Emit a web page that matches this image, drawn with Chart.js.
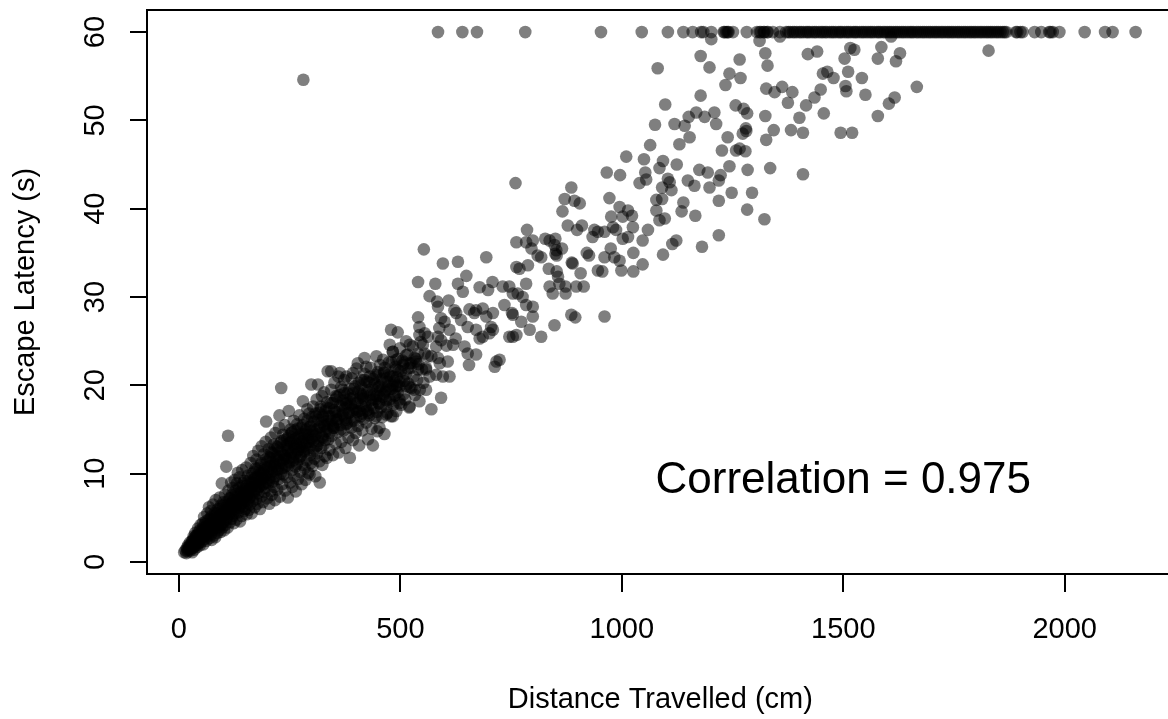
<!DOCTYPE html>
<html><head><meta charset="utf-8">
<script src="https://cdn.jsdelivr.net/npm/chart.js@4/dist/chart.umd.min.js"></script>
<style>html,body{margin:0;padding:0;background:#fff;overflow:hidden}#wrap{width:1168px;height:719px;overflow:hidden;position:relative;background:#fff}canvas{display:block}</style>
</head><body><div id="wrap"><canvas id="c" width="1180" height="719"></canvas></div>
<script>
// ---------- data (distance in cm, latency in s) ----------
const xTitle = 'Distance Travelled (cm)';
const yTitle = 'Escape Latency (s)';
const corrLabel = 'Correlation = 0.975';
const xTickValues = [0, 500, 1000, 1500, 2000];
const yTickValues = [0, 10, 20, 30, 40, 50, 60];
const cappedLatency = 60;

// trials that hit the 60 s cap
const cappedDistance = [585, 640, 673, 782, 953, 1045, 1104, 1139, 1160, 1179, 1184, 1202, 1230, 1232, 1236, 1239, 1241, 1251, 1282, 1305, 1311, 1314, 1320, 1322, 1328, 1330, 1341, 1357,
  1371, 1376, 1380, 1386, 1390, 1395, 1401, 1405, 1410, 1416, 1420, 1424, 1430, 1435, 1439, 1445, 1450, 1454, 1459, 1463, 1469, 1474, 1478, 1483, 1489, 1493, 1497, 1503, 1508, 1512, 1517, 1523, 1527, 1531, 1537, 1542, 1546, 1551, 1556, 1561, 1565, 1570, 1576, 1580, 1584, 1590, 1594, 1599, 1604, 1608, 1613, 1618, 1622, 1627, 1632, 1636, 1641, 1646, 1651, 1655, 1659, 1665, 1669, 1674, 1679, 1683, 1688, 1693, 1697, 1702, 1707, 1711, 1716, 1721, 1725, 1730, 1735, 1739, 1744, 1748, 1753, 1758, 1762, 1767, 1772, 1776, 1781, 1786, 1790, 1795, 1799, 1804, 1809, 1813, 1818, 1823, 1827, 1832, 1836, 1841, 1846, 1850, 1855, 1860, 1864, 1868,
  1890, 1893, 1900, 1905, 1932, 1947, 1965, 1968, 1973, 1988, 2045, 2091, 2108, 2160];

// long trials, 43-60 s
const upperTrials = [[281,54.6],[1202,59.2],[1311,59.0],[1357,59.5],[1178,57.3],[1266,56.9],[1324,57.6],[1420,57.5],[1441,57.8],[1516,58.2],[1525,58.0],[1503,57.0],[1578,57.0],[1081,55.9],[1198,56.0],[1329,56.2],[1243,55.3],[1268,54.8],[1234,54.0],[1454,55.3],[1464,55.5],[1478,54.8],[1511,55.5],[1542,54.8],[1505,53.9],[1507,53.3],[1550,52.9],[1449,53.5],[1435,52.6],[1416,51.7],[1456,50.8],[1401,50.3],[1578,50.5],[1494,48.6],[1520,48.6],[1409,48.6],[1382,48.9],[1326,53.6],[1345,53.2],[1362,53.8],[1385,53.2],[1375,52.0],[1178,52.8],[1098,51.8],[1257,51.7],[1275,51.3],[1283,50.8],[1324,50.5],[1168,50.9],[1151,50.4],[1187,50.4],[1209,50.9],[1213,49.6],[1119,49.6],[1142,49.4],[1075,49.5],[1153,48.1],[1130,47.3],[1064,47.2],[1010,45.9],[1050,45.6],[1093,45.4],[1124,45.0],[1085,44.6],[966,44.1],[996,43.8],[1053,44.1],[1281,48.8],[1280,49.1],[1239,48.1],[1273,48.5],[1343,48.9],[1326,47.8],[1226,46.6],[1258,46.6],[1279,46.5],[1266,46.8],[1243,44.8],[1284,44.4],[1335,44.6],[1409,43.9],[1175,44.4],[1194,44.1],[1223,43.8],
  [1608,59.5],[1586,58.3],[1628,57.6],[1619,56.7],[1828,57.9],[1666,53.8],[1616,52.6],[1603,51.9]];

// middle trials, 26-43 s
const middleTrials = [[760,42.9],[1040,42.9],[1055,43.3],[1104,43.4],[1108,43.0],[1112,42.1],[1091,42.4],[1078,41.0],[1091,41.1],[1078,39.8],[1085,38.7],[1097,38.9],[1149,43.2],[1164,42.6],[1139,40.7],[1135,39.7],[1166,39.2],[1198,42.4],[1219,43.2],[1219,40.9],[1248,41.8],[1283,39.9],[1294,41.8],[1322,38.8],[1219,37.0],[1181,35.7],[1123,36.4],[1114,36.0],[1093,34.8],[1059,37.6],[1047,36.4],[1025,37.9],[1023,39.2],[1014,39.8],[1002,39.1],[995,40.2],[972,41.2],[976,39.1],[980,37.9],[961,37.4],[946,37.4],[938,37.6],[934,36.8],[987,37.6],[1002,36.6],[1014,36.8],[1026,35.0],[1047,33.7],[1026,32.9],[999,33.0],[995,34.1],[983,34.5],[975,35.5],[961,34.5],[956,32.9],[946,33.0],[926,34.7],[921,35.0],[889,33.8],[887,33.9],[907,32.7],[899,37.6],[878,38.1],[910,38.1],[905,40.6],[893,40.9],[871,41.1],[886,42.4],[866,39.7],[850,36.6],[850,34.9],[853,34.7],[865,35.5],[837,36.4],[827,36.6],[835,33.2],[853,32.9],[856,32.3],[837,31.2],[844,30.4],[859,31.5],[873,31.2],[873,30.4],[897,31.2],[914,31.2],[786,37.6],[762,36.2],[784,36.2],[799,36.4],[796,35.5],[810,34.7],[818,34.5],[848,35.9],[852,35.3],[694,34.5],[762,33.4],[769,33.2],[788,33.6],[708,31.7],[698,30.8],[731,31.2],[746,31.2],[754,30.4],[765,30.4],[784,31.5],[776,30.0],[686,28.7],[709,28.2],[735,29.1],[754,28.0],[752,28.2],[773,27.2],[799,27.8],[799,28.9],[784,29.1],[705,26.6],[848,26.8],[886,28.0],[895,27.7],[961,27.8]];

// trials of 15-36 s
const lowerMidTrials = [[553,35.4],[596,33.8],[630,34.0],[540,31.7],[579,31.5],[649,32.4],[630,31.5],[641,30.6],[566,30.1],[583,29.5],[609,29.6],[585,28.9],[679,31.1],[671,28.5],[656,28.6],[622,28.5],[626,28.2],[592,27.6],[600,27.2],[540,27.7],[543,26.6],[555,25.9],[588,26.5],[585,25.5],[592,25.1],[611,26.3],[625,25.3],[604,24.5],[619,24.6],[645,24.4],[652,23.6],[671,23.5],[655,22.3],[679,25.3],[686,25.5],[701,25.9],[709,26.3],[671,26.3],[652,26.6],[637,27.4],[667,28.2],[694,27.8],[717,22.7],[724,22.9],[713,22.1],[479,26.3],[494,26.0],[476,24.6],[513,25.0],[521,24.6],[543,25.7],[562,25.5],[551,24.6],[581,24.4],[570,23.3],[585,23.1],[607,22.7],[589,22.5],[611,21.0],[596,21.0],[562,23.3],[532,23.1],[540,23.6],[419,23.1],[446,23.3],[461,22.9],[483,23.8],[491,22.9],[506,22.3],[521,22.5],[536,22.7],[540,21.8],[558,21.8],[566,21.0],[581,21.2],[592,18.6],[570,17.3],[543,18.2],[558,19.5],[532,19.5],[513,19.9],[498,20.4],[483,21.0],[464,21.4],[446,21.0],[423,22.1],[404,22.5],[393,21.4],[378,21.0],[363,21.4],[344,21.6],[412,20.6],[430,20.3],[453,19.9],[468,19.5],[491,19.9],[476,18.4],[498,18.0],[521,17.6],[453,18.8],[438,18.4],[415,18.8],[393,19.1],[370,19.5],[355,18.8],[378,18.0],[400,17.3],[423,17.1],[446,16.5],[468,16.7],[483,16.5],[355,16.5],[378,16.1],[348,15.4],[754,25.5],[762,25.7],[792,26.3],[818,25.5],[746,25.5]];

// short trials, under 300 cm
const shortTrials = [[12,1.1],[15,1.3],[17,1.0],[18,1.6],[20,1.2],[21,1.9],[22,1.4],[24,1.7],[25,2.2],[26,1.3],[27,1.5],[28,2.0],[29,1.8],[30,1.1],
  [31,2.4],[32,1.6],[33,2.9],[34,2.0],[35,1.4],[36,2.6],[37,3.3],[38,1.9],[39,2.2],[40,3.0],[41,1.7],[42,2.5],[43,3.8],[44,2.1],[45,2.8],[46,3.4],[47,1.9],[48,2.6],[49,4.2],[50,3.1],
  [51,2.3],[52,3.6],[53,2.8],[54,4.4],[55,2.0],[56,3.2],[57,5.1],[58,2.6],[59,3.9],[60,3.0],[61,4.6],[62,2.4],[63,3.5],[64,5.5],[65,2.9],[66,4.1],[67,3.3],[68,6.2],[69,2.7],[70,3.8],
  [71,4.9],[72,3.1],[73,5.8],[74,2.5],[75,4.3],[76,3.6],[77,6.5],[78,4.0],[79,3.0],[80,5.2],[81,4.6],[82,2.8],[83,7.0],[84,3.9],[85,5.5],[86,4.4],[87,3.3],[88,6.0],[89,4.8],[90,3.6],[91,5.3],[92,7.3],[93,4.1],[94,3.4],[95,6.4],[96,4.9],[97,8.9],[98,3.9],[99,5.6],[100,4.5],
  [101,6.8],[102,3.6],[103,5.1],[104,7.6],[105,4.2],[106,5.9],[107,10.8],[108,4.8],[109,6.5],[110,3.9],[111,14.3],[112,8.1],[113,5.4],[114,6.2],[115,4.5],[116,7.2],[117,5.7],[118,9.0],[119,4.9],[120,6.7],[121,5.2],[122,8.4],[123,7.0],[124,4.4],[125,6.0],[126,9.3],[127,5.5],[128,7.7],[129,6.4],[130,4.8],
  [131,8.9],[132,6.9],[133,10.1],[134,5.6],[135,7.4],[136,6.1],[137,9.6],[138,4.6],[139,8.0],[140,6.6],[141,7.2],[142,5.2],[143,10.4],[144,8.6],[145,6.3],[146,7.8],[147,5.8],[148,9.2],[149,7.0],[150,6.0],[151,8.3],[152,10.7],[153,5.4],[154,7.5],[155,6.7],[156,9.8],[157,8.1],[158,5.9],[159,7.3],[160,6.5],
  [161,9.0],[162,11.2],[163,7.9],[164,5.5],[165,8.5],[166,10.0],[167,6.9],[168,12.0],[169,7.6],[170,9.4],[171,6.2],[172,8.2],[173,10.6],[174,7.1],[175,11.6],[176,8.8],[177,6.6],[178,9.7],[179,12.6],[180,7.8],[181,8.5],[182,10.3],[183,6.0],[184,9.1],[185,11.0],[186,7.4],[187,13.1],[188,8.7],[189,10.1],[190,6.8],
  [191,9.5],[192,12.2],[193,7.9],[194,10.7],[195,8.4],[196,13.6],[197,15.9],[198,9.8],[199,7.2],[200,11.4],[201,8.9],[202,10.2],[203,12.8],[204,6.6],[205,9.3],[206,11.8],[207,8.0],[208,14.1],[209,10.5],[210,7.6],[211,12.4],[212,9.1],[213,10.9],[214,13.3],[215,8.5],[216,11.1],[217,7.0],[218,14.6],[219,9.7],[220,12.0],
  [221,10.4],[222,8.2],[223,13.0],[224,11.5],[225,9.4],[226,15.2],[227,16.6],[228,7.4],[229,12.5],[230,10.0],[231,19.7],[232,13.7],[233,8.8],[234,11.2],[235,14.4],[236,9.9],[237,12.1],[238,10.7],[239,15.5],[240,8.1],[241,13.2],[242,11.7],[243,9.6],[244,14.0],[245,12.8],[246,7.3],[247,10.9],[248,17.1],[249,13.5],[250,11.3],
  [251,9.0],[252,15.0],[253,12.2],[254,14.6],[255,10.4],[256,8.5],[257,13.8],[258,11.8],[259,16.0],[260,9.8],[261,12.9],[262,14.9],[263,10.8],[264,8.0],[265,13.4],[266,11.1],[267,15.6],[268,12.5],[269,9.4],[270,14.2],[271,11.6],[272,16.6],[273,13.0],[274,10.2],[275,12.0],[276,15.2],[277,8.8],[278,13.7],[279,11.0],[280,18.2],
  [281,14.5],[282,12.4],[283,16.2],[284,10.6],[285,13.2],[286,9.3],[287,15.0],[288,12.8],[289,11.5],[290,17.3],[291,14.0],[292,10.1],[293,13.6],[294,16.8],[295,9.9],[296,12.1],[297,15.4],[298,11.2],[299,20.1],[300,13.9]];

// trials of 300-560 cm
const moderateTrials = [[301,14.8],[302,10.9],[303,17.6],[304,12.6],[305,15.9],[306,11.7],[307,14.3],[308,9.7],[309,16.5],[310,13.1],
  [311,18.4],[312,12.3],[313,15.1],[314,20.1],[315,13.7],[316,16.9],[317,11.4],[318,9.0],[319,14.6],[320,17.6],[321,12.9],[322,15.8],[323,18.8],[324,11.0],[325,14.1],[326,16.4],[327,13.3],[328,19.2],[329,15.4],[330,12.0],[331,17.1],[332,14.8],[333,16.0],[334,11.8],[335,18.1],[336,21.6],[337,13.9],[338,15.6],[339,17.4],[340,12.7],
  [342,16.5],[344,19.5],[345,14.3],[347,18.0],[348,12.1],[350,15.2],[351,20.3],[353,17.0],[354,13.4],[356,16.1],[357,18.7],[359,14.7],[360,21.0],[361,12.4],[363,17.7],[364,15.5],[366,19.8],[367,13.6],[369,16.8],[370,18.3],[372,14.9],[373,20.6],[375,16.3],[376,12.9],[378,17.9],[379,15.7],
  [381,19.1],[383,14.1],[384,16.9],[386,11.8],[387,18.5],[389,15.2],[390,20.8],[392,17.3],[393,13.8],[395,19.6],[396,16.0],[398,18.0],[399,14.6],[401,21.9],[402,17.0],[404,15.4],[405,19.3],[407,13.2],[408,18.6],[410,16.5],[411,20.0],[413,17.7],[414,14.9],[416,19.0],[417,16.2],[419,21.3],
  [421,18.2],[423,15.8],[424,20.4],[426,17.2],[427,13.9],[429,19.5],[430,16.6],[432,18.9],[433,22.0],[435,15.1],[436,17.8],[438,13.2],[439,20.7],[441,19.0],[442,16.3],[444,18.4],[445,21.2],[447,17.0],[448,14.8],[450,19.8],[451,18.0],[453,15.2],[454,22.3],[456,17.5],[457,20.1],[459,16.4],
  [461,18.7],[463,21.5],[464,14.5],[466,19.3],[468,17.6],[469,20.8],[471,16.9],[472,19.9],[474,22.6],[476,18.2],[477,21.0],[479,16.5],[481,19.6],[483,23.8],[484,17.8],[486,20.5],[488,18.9],[489,22.1],[491,17.1],[493,20.0],[494,19.2],[496,21.7],[498,18.4],[499,24.2],
  [502,17.8],[505,20.9],[507,19.0],[509,22.6],[511,18.4],[513,21.3],[516,23.5],[518,20.2],[520,17.5],[523,22.0],[525,19.7],[528,24.4],[530,21.0],[533,18.9],[535,23.0],[538,20.6],[541,22.4],[544,19.5],[546,24.9],[549,21.8],[552,20.3],[555,23.6],[558,22.0]];

// core of the dense band (many overlapping trials)
const coreTrials = [[19,1.4],[23,1.8],[26,1.6],[29,2.3],[32,2.1],[34,2.7],[36,1.8],[38,2.9],[41,2.4],[43,3.1],[45,2.2],[47,3.6],[50,2.7],[52,3.3],[55,3.9],[57,2.9],[59,4.3],
  [61,3.6],[63,4.1],[65,3.3],[67,4.8],[69,3.9],[72,4.4],[74,5.2],[76,3.8],[78,4.9],[80,4.2],[82,5.6],[84,4.7],[86,3.8],[88,5.2],[90,4.5],[92,6.0],[94,5.1],[96,4.2],[98,5.8],[100,6.4],
  [102,5.3],[104,6.1],[106,4.9],[108,6.8],[110,5.7],[112,6.4],[114,7.2],[116,5.4],[118,6.6],[120,7.6],[122,6.1],[124,7.0],[126,5.8],[128,8.1],[130,6.9],[132,7.5],[134,6.3],[136,8.4],[138,7.1],[140,7.8],[142,6.6],[144,8.9],[146,7.3],[148,8.0],[150,6.9],
  [152,8.6],[154,7.7],[156,9.2],[158,8.2],[160,7.3],[162,9.5],[164,8.4],[166,9.0],[168,7.8],[170,10.2],[172,8.9],[174,9.6],[176,8.1],[178,10.6],[180,9.3],[182,8.6],[184,10.0],[186,11.2],[188,9.5],[190,8.8],[192,10.4],[194,9.8],[196,11.6],[198,9.0],[200,10.7],
  [202,11.9],[204,9.6],[206,10.9],[208,12.4],[210,10.2],[212,11.4],[214,9.5],[216,12.8],[218,10.8],[220,11.7],[222,13.1],[224,10.5],[226,12.0],[228,11.2],[230,13.5],[232,10.6],[234,12.4],[236,11.6],[238,13.8],[240,12.0],[242,10.9],[244,13.2],[246,12.6],[248,14.3],[250,11.8],
  [252,13.6],[254,12.4],[256,14.7],[258,11.5],[260,13.1],[262,12.2],[264,14.0],[266,13.4],[268,15.1],[270,12.7],[272,13.9],[274,11.9],[276,14.5],[278,13.0],[280,15.5],[282,14.1],[284,12.6],[286,14.8],[288,13.5],[290,16.0],[292,14.4],[294,12.9],[296,15.3],[298,14.0],[300,16.4],
  [303,13.6],[305,15.0],[308,16.8],[310,14.5],[313,13.2],[315,16.1],[318,15.3],[320,17.3],[323,14.2],[325,16.6],[328,15.5],[330,13.8],[333,17.5],[335,15.1],[338,16.5],[340,14.6],[343,18.0],[345,16.0],[348,15.2],[350,17.2],
  [353,18.4],[355,15.8],[358,17.0],[360,16.2],[363,18.9],[365,15.0],[368,17.6],[370,16.6],[373,19.1],[375,17.4],[378,15.6],[380,18.3],[383,16.9],[385,19.6],[388,17.8],[390,15.9],[393,18.6],[395,17.2],[398,19.9],[400,16.4],
  [403,18.0],[406,20.3],[408,17.1],[411,19.0],[414,16.8],[416,18.5],[419,20.6],[422,17.6],[425,19.3],[428,16.9],[431,21.0],[434,18.3],[437,19.7],[440,17.4],[443,20.2],[446,18.8],[449,21.5],[452,17.9],[455,19.4],[458,20.7],
  [462,19.0],[465,22.0],[468,18.3],[471,20.4],[474,21.2],[477,19.6],[480,22.6],[483,20.0],[486,18.8],[489,21.8],[492,20.9],[495,23.0],[498,19.9],[501,21.6],[505,22.8],[509,20.5],[513,23.4],[517,21.9],[521,19.8],[525,22.5]];

// ---------- chart ----------
const FONT = '"Liberation Sans", Arial, Helvetica, sans-serif';
const toPoints = arr => arr.map(([x, y]) => ({x, y}));
const dotStyle = {backgroundColor: 'rgba(0,0,0,0.5)', borderWidth: 0, pointRadius: 6.3, pointHoverRadius: 6.3, showLine: false};

const framePlugin = {
  id: 'frame',
  afterDraw(chart) {
    const {ctx, chartArea: a, scales: {x, y}} = chart;
    ctx.save();
    ctx.strokeStyle = '#000';
    ctx.lineWidth = 2;
    ctx.strokeRect(a.left, a.top, a.right - a.left, a.bottom - a.top);
    ctx.fillStyle = '#000';
    ctx.font = '29px ' + FONT;
    ctx.textAlign = 'center';
    ctx.textBaseline = 'middle';
    for (const v of yTickValues) {
      ctx.save();
      ctx.translate(96, y.getPixelForValue(v));
      ctx.rotate(-Math.PI / 2);
      ctx.fillText(String(v), 0, 0);
      ctx.restore();
    }
    ctx.font = '44px ' + FONT;
    ctx.textBaseline = 'alphabetic';
    ctx.fillText(corrLabel, x.getPixelForValue(1500), y.getPixelForValue(10) + 19);
    ctx.restore();
  }
};

new Chart(document.getElementById('c'), {
  type: 'scatter',
  data: {
    datasets: [
      {data: cappedDistance.map(d => ({x: d, y: cappedLatency})), ...dotStyle},
      {data: toPoints(upperTrials), ...dotStyle},
      {data: toPoints(middleTrials), ...dotStyle},
      {data: toPoints(lowerMidTrials), ...dotStyle},
      {data: toPoints(moderateTrials), ...dotStyle},
      {data: toPoints(shortTrials), ...dotStyle},
      {data: toPoints(coreTrials), ...dotStyle}
    ]
  },
  options: {
    responsive: false,
    devicePixelRatio: 1,
    animation: false,
    events: [],
    layout: {padding: {top: 10, right: 6, left: 0, bottom: 0}},
    plugins: {legend: {display: false}, tooltip: {enabled: false}},
    scales: {
      x: {
        type: 'linear', min: -72, max: 2246,
        afterBuildTicks: s => { s.ticks = xTickValues.map(v => ({value: v})); },
        afterFit: s => { s.height = 145; },
        grid: {display: true, drawOnChartArea: false, drawTicks: true, tickLength: 18, color: '#000', tickColor: '#000', lineWidth: 2, tickWidth: 2},
        border: {display: false},
        ticks: {color: '#000', font: {family: FONT, size: 29}, padding: 21, maxRotation: 0, autoSkip: false, callback: v => String(v)},
        title: {display: true, text: xTitle, color: '#000', font: {family: FONT, size: 29}, padding: {top: 0, bottom: 2}}
      },
      y: {
        type: 'linear', min: -1.36, max: 62.5,
        afterBuildTicks: s => { s.ticks = yTickValues.map(v => ({value: v})); },
        afterFit: s => { s.width = 147; },
        grid: {display: true, drawOnChartArea: false, drawTicks: true, tickLength: 17, color: '#000', tickColor: '#000', lineWidth: 2, tickWidth: 2},
        border: {display: false},
        ticks: {display: false},
        title: {display: true, text: yTitle, color: '#000', font: {family: FONT, size: 29}, padding: {top: 9, bottom: 0}}
      }
    }
  },
  plugins: [framePlugin]
});
</script></body></html>
